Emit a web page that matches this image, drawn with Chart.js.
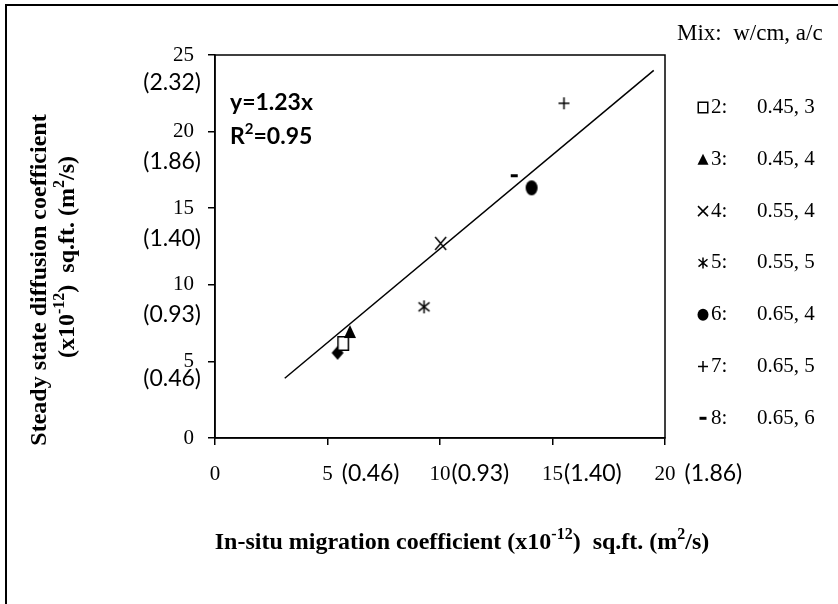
<!DOCTYPE html>
<html><head><meta charset="utf-8">
<script src="https://cdn.jsdelivr.net/npm/chart.js@4/dist/chart.umd.min.js"></script>
<style>html,body{margin:0;padding:0;background:#fff}canvas{display:block}</style>
</head><body>
<canvas id="c" width="838" height="604"></canvas>
<script>
// ---- data ----
const mixIds = ['1', '2', '3', '4', '5', '6', '7', '8'];
const markerTypes = ['diamond', 'square', 'triangle', 'cross', 'asterisk', 'circle', 'plus', 'dash'];
const migrationCoeff = [5.45, 5.70, 6.00, 10.03, 9.29, 14.07, 15.51, 13.30];
const diffusionCoeff = [5.56, 6.17, 6.95, 12.70, 8.56, 16.33, 21.85, 17.12];
const fitX = [3.1, 19.5];
const fitY = [3.9, 24.0];
const xTickValues = [0, 5, 10, 15, 20];
const xTickSI = ['', '(0.46)', '(0.93)', '(1.40)', '(1.86)'];
const yTickValues = [0, 5, 10, 15, 20, 25];
const yTickSI = ['', '(0.46)', '(0.93)', '(1.40)', '(1.86)', '(2.32)'];
const legendIds = ['2:', '3:', '4:', '5:', '6:', '7:', '8:'];
const legendMix = ['0.45, 3', '0.45, 4', '0.55, 4', '0.55, 5', '0.65, 4', '0.65, 5', '0.65, 6'];
const legendMarkers = ['square', 'triangle', 'cross', 'asterisk', 'circle', 'plus', 'dash'];
const legendHeader = 'Mix:  w/cm, a/c';
const fitSlope = '1.23';
const fitR2 = '0.95';

// ---- styles ----
const SERIF = "'Liberation Serif', 'Times New Roman', serif";
const SANS = "Lato, 'Open Sans', sans-serif";
const markerSize = {
  diamond: [12, 14], square: [12, 15], triangle: [12, 13], cross: [11, 13],
  asterisk: [11, 13], circle: [12, 15], plus: [11, 12], dash: [7, 3]
};
const legendSize = {
  square: [11, 12], triangle: [11, 11], cross: [10, 10], asterisk: [9, 11],
  circle: [11, 12], plus: [10, 11], dash: [7, 3]
};

function drawMark(ctx, type, cx, cy, w, h) {
  ctx.save();
  ctx.fillStyle = '#000';
  ctx.strokeStyle = '#000';
  ctx.lineWidth = 1.5;
  ctx.beginPath();
  switch (type) {
    case 'diamond':
      ctx.moveTo(cx, cy - h / 2); ctx.lineTo(cx + w / 2, cy); ctx.lineTo(cx, cy + h / 2); ctx.lineTo(cx - w / 2, cy);
      ctx.closePath(); ctx.fill(); break;
    case 'square':
      ctx.fillStyle = '#fff';
      ctx.rect(cx - w / 2 + 0.75, cy - h / 2 + 0.75, w - 1.5, h - 1.5);
      ctx.fill(); ctx.stroke(); break;
    case 'triangle':
      ctx.moveTo(cx, cy - h / 2); ctx.lineTo(cx + w / 2, cy + h / 2); ctx.lineTo(cx - w / 2, cy + h / 2);
      ctx.closePath(); ctx.fill(); break;
    case 'cross':
      ctx.moveTo(cx - w / 2, cy - h / 2); ctx.lineTo(cx + w / 2, cy + h / 2);
      ctx.moveTo(cx + w / 2, cy - h / 2); ctx.lineTo(cx - w / 2, cy + h / 2);
      ctx.stroke(); break;
    case 'asterisk':
      ctx.moveTo(cx - w / 2, cy - h / 3); ctx.lineTo(cx + w / 2, cy + h / 3);
      ctx.moveTo(cx + w / 2, cy - h / 3); ctx.lineTo(cx - w / 2, cy + h / 3);
      ctx.moveTo(cx, cy - h / 2); ctx.lineTo(cx, cy + h / 2);
      ctx.stroke(); break;
    case 'circle':
      ctx.ellipse(cx, cy, w / 2, h / 2, 0, 0, Math.PI * 2); ctx.fill(); break;
    case 'plus':
      ctx.moveTo(cx - w / 2, cy); ctx.lineTo(cx + w / 2, cy);
      ctx.moveTo(cx, cy - h / 2); ctx.lineTo(cx, cy + h / 2);
      ctx.stroke(); break;
    case 'dash':
      ctx.rect(cx - w / 2, cy - h / 2, w, h); ctx.fill(); break;
  }
  ctx.restore();
}

function makeMarker(type) {
  const [w, h] = markerSize[type];
  const c = document.createElement('canvas');
  c.width = w + 4; c.height = h + 4;
  drawMark(c.getContext('2d'), type, c.width / 2, c.height / 2, w, h);
  return c;
}

function drawRich(ctx, parts, x, y, size, weight, family, align) {
  const fontFor = (p) => `${weight} ${p.sup ? Math.round(size * 0.65) : size}px ${family}`;
  let total = 0;
  parts.forEach(p => { ctx.font = fontFor(p); total += ctx.measureText(p.t).width; });
  let cx = align === 'center' ? x - total / 2 : x;
  ctx.textAlign = 'left';
  ctx.textBaseline = 'middle';
  parts.forEach(p => {
    ctx.font = fontFor(p);
    ctx.fillText(p.t, cx, p.sup ? y - size * 0.32 : y);
    cx += ctx.measureText(p.t).width;
  });
}

const points = migrationCoeff.map((x, i) => ({ x: x, y: diffusionCoeff[i] }));
const fitPoints = fitX.map((x, i) => ({ x: x, y: fitY[i] }));

const annotations = {
  id: 'annotations',
  afterDraw(chart) {
    const ctx = chart.ctx;
    const a = chart.chartArea;
    const xs = chart.scales.x, ys = chart.scales.y;
    ctx.save();
    // outer frame (left + top)
    ctx.strokeStyle = '#000';
    ctx.lineWidth = 2;
    ctx.beginPath();
    ctx.moveTo(6, 604); ctx.lineTo(6, 5); ctx.lineTo(838, 5);
    ctx.stroke();
    // plot box
    ctx.lineWidth = 1.5;
    ctx.strokeRect(a.left, a.top, a.right - a.left, a.bottom - a.top);

    ctx.fillStyle = '#000';
    // y-axis SI labels
    const yOff = [0, 17, 30, 30, 30, 28];
    ctx.font = `23px ${SANS}`;
    ctx.textAlign = 'right';
    ctx.textBaseline = 'middle';
    yTickValues.forEach((v, i) => {
      if (!yTickSI[i]) return;
      ctx.fillText(yTickSI[i], 201, ys.getPixelForValue(v) + yOff[i]);
    });
    // x-axis SI labels
    const xGap = [0, 9, 1, 1, 9];
    xTickValues.forEach((v, i) => {
      if (!xTickSI[i]) return;
      ctx.font = `21px ${SERIF}`;
      const nw = ctx.measureText(String(v)).width;
      ctx.font = `23px ${SANS}`;
      ctx.textAlign = 'left';
      ctx.fillText(xTickSI[i], xs.getPixelForValue(v) + nw / 2 + xGap[i], 474);
    });

    // axis titles
    drawRich(ctx, [
      { t: 'In-situ migration coefficient (x10' }, { t: '-12', sup: true },
      { t: ')  sq.ft. (m' }, { t: '2', sup: true }, { t: '/s)' }
    ], 462, 543, 24, 'bold', SERIF, 'center');

    ctx.save();
    ctx.translate(40, 280);
    ctx.rotate(-Math.PI / 2);
    drawRich(ctx, [{ t: 'Steady state diffusion coefficient' }], 0, 0, 24, 'bold', SERIF, 'center');
    ctx.restore();
    ctx.save();
    ctx.translate(68, 257);
    ctx.rotate(-Math.PI / 2);
    drawRich(ctx, [
      { t: '(x10' }, { t: '-12', sup: true }, { t: ')  sq.ft. (m' }, { t: '2', sup: true }, { t: '/s)' }
    ], 0, 0, 24, 'bold', SERIF, 'center');
    ctx.restore();

    // equation
    drawRich(ctx, [{ t: 'y=' + fitSlope + 'x' }], 230, 103, 23, 'bold', SANS, 'left');
    drawRich(ctx, [{ t: 'R' }, { t: '2', sup: true }, { t: '=' + fitR2 }], 230, 137, 23, 'bold', SANS, 'left');

    // legend
    ctx.font = `23px ${SERIF}`;
    ctx.textAlign = 'left';
    ctx.textBaseline = 'middle';
    ctx.fillText(legendHeader, 677, 34);
    legendIds.forEach((id, i) => {
      const y = 107.5 + i * 51.8;
      const [w, h] = legendSize[legendMarkers[i]];
      drawMark(ctx, legendMarkers[i], 703, y, w, h);
      ctx.font = `21px ${SERIF}`;
      ctx.fillText(id, 711, y);
      ctx.fillText(legendMix[i], 757, y);
    });
    ctx.restore();
  }
};

new Chart(document.getElementById('c'), {
  type: 'scatter',
  data: {
    datasets: [
      {
        label: 'Mix',
        data: points,
        pointStyle: markerTypes.map(makeMarker),
        pointRadius: 6,
        order: 1
      },
      {
        type: 'line',
        label: 'fit',
        data: fitPoints,
        borderColor: '#000',
        borderWidth: 1.5,
        pointRadius: 0,
        fill: false,
        order: 2
      }
    ]
  },
  options: {
    responsive: false,
    animation: false,
    events: [],
    layout: { padding: { left: 115, right: 173, top: 55, bottom: 106 } },
    plugins: { legend: { display: false }, tooltip: { enabled: false } },
    scales: {
      x: {
        type: 'linear', min: 0, max: 20,
        afterFit: (s) => { s.height = 60; },
        afterBuildTicks: (s) => { s.ticks = xTickValues.map(v => ({ value: v })); },
        border: { display: true, color: '#000', width: 1.5 },
        grid: { drawOnChartArea: false, drawTicks: true, tickLength: 7, color: '#000', lineWidth: 1.5 },
        ticks: { color: '#000', font: { family: SERIF, size: 21 }, padding: 17, maxRotation: 0, autoSkip: false }
      },
      y: {
        type: 'linear', min: 0, max: 25,
        afterFit: (s) => { s.width = 100; },
        afterBuildTicks: (s) => { s.ticks = yTickValues.map(v => ({ value: v })); },
        border: { display: true, color: '#000', width: 1.5 },
        grid: { drawOnChartArea: false, drawTicks: true, tickLength: 7, color: '#000', lineWidth: 1.5 },
        ticks: { color: '#000', font: { family: SERIF, size: 21 }, padding: 14, autoSkip: false }
      }
    }
  },
  plugins: [annotations]
});
</script>
</body></html>
